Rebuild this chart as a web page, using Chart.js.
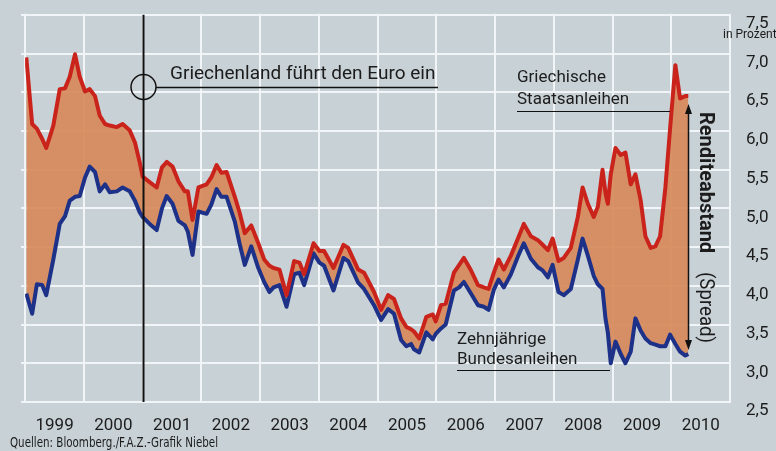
<!DOCTYPE html>
<html>
<head>
<meta charset="utf-8">
<script src="https://cdn.jsdelivr.net/npm/chart.js@4.4.1/dist/chart.umd.min.js"></script>
<style>
  html, body { margin: 0; padding: 0; background: #c8d1d6; }
  canvas { display: block; background: #c8d1d6; }
</style>
</head>
<body>
<canvas id="spreadChart" width="776" height="451"></canvas>
<script>
// decimal years
const years = [
  1999.02, 1999.12, 1999.20, 1999.29, 1999.36, 1999.48, 1999.59, 1999.68, 1999.76, 1999.85,
  1999.93, 2000.02, 2000.10, 2000.19, 2000.27, 2000.36, 2000.44, 2000.56, 2000.66, 2000.78,
  2000.87, 2000.95, 2001.00, 2001.12, 2001.24, 2001.33, 2001.41, 2001.51, 2001.61, 2001.72,
  2001.77, 2001.85, 2001.95, 2002.09, 2002.17, 2002.26, 2002.34, 2002.43, 2002.57, 2002.65,
  2002.74, 2002.85, 2002.97, 2003.07, 2003.16, 2003.23, 2003.33, 2003.45, 2003.58, 2003.67,
  2003.75, 2003.91, 2004.01, 2004.09, 2004.25, 2004.42, 2004.50, 2004.67, 2004.77, 2004.94,
  2005.06, 2005.18, 2005.28, 2005.40, 2005.49, 2005.57, 2005.62, 2005.71, 2005.83, 2005.94,
  2005.99, 2006.08, 2006.16, 2006.30, 2006.39, 2006.47, 2006.59, 2006.71, 2006.81, 2006.89,
  2006.98, 2007.06, 2007.15, 2007.27, 2007.39, 2007.49, 2007.61, 2007.73, 2007.81, 2007.90,
  2007.98, 2008.08, 2008.17, 2008.29, 2008.41, 2008.49, 2008.58, 2008.68, 2008.75, 2008.83,
  2008.88, 2008.92, 2008.97, 2009.05, 2009.14, 2009.22, 2009.31, 2009.39, 2009.48, 2009.56,
  2009.65, 2009.73, 2009.81, 2009.90, 2009.98, 2010.07, 2010.15, 2010.24, 2010.29
];

// Griechische Staatsanleihen (10 Jahre), in Prozent
const greekYields = [
  6.95, 6.09, 6.03, 5.90, 5.78, 6.07, 6.54, 6.55, 6.70, 6.99,
  6.70, 6.51, 6.54, 6.45, 6.20, 6.09, 6.07, 6.05, 6.09, 6.01,
  5.85, 5.60, 5.41, 5.34, 5.27, 5.53, 5.60, 5.54, 5.35, 5.22,
  5.22, 4.85, 5.27, 5.31, 5.40, 5.56, 5.46, 5.47, 5.15, 4.95,
  4.68, 4.78, 4.55, 4.34, 4.26, 4.23, 4.21, 3.88, 4.32, 4.30,
  4.15, 4.55, 4.45, 4.45, 4.23, 4.53, 4.49, 4.21, 4.17, 3.92,
  3.69, 3.88, 3.83, 3.58, 3.47, 3.44, 3.41, 3.32, 3.60, 3.63,
  3.54, 3.75, 3.77, 4.17, 4.27, 4.36, 4.20, 4.01, 3.98, 3.96,
  4.17, 4.34, 4.21, 4.39, 4.61, 4.80, 4.64, 4.59, 4.53, 4.46,
  4.61, 4.32, 4.36, 4.49, 4.89, 5.27, 5.06, 4.89, 5.02, 5.50,
  5.20, 5.06, 5.44, 5.78, 5.69, 5.72, 5.31, 5.44, 5.10, 4.64,
  4.49, 4.51, 4.64, 5.27, 6.03, 6.85, 6.42, 6.45, 6.45
];

// Zehnjährige Bundesanleihen, in Prozent
const bundYields = [
  3.90, 3.64, 4.02, 4.01, 3.88, 4.34, 4.80, 4.90, 5.10, 5.15,
  5.16, 5.40, 5.54, 5.47, 5.22, 5.31, 5.21, 5.22, 5.27, 5.22,
  5.10, 4.95, 4.89, 4.80, 4.72, 5.00, 5.16, 5.06, 4.84, 4.78,
  4.70, 4.40, 4.96, 4.93, 5.05, 5.25, 5.15, 5.15, 4.83, 4.55,
  4.27, 4.51, 4.23, 4.05, 3.92, 3.98, 4.01, 3.73, 4.15, 4.17,
  4.01, 4.42, 4.30, 4.26, 3.94, 4.36, 4.32, 4.04, 3.96, 3.75,
  3.56, 3.70, 3.64, 3.30, 3.22, 3.25, 3.18, 3.14, 3.40, 3.31,
  3.38, 3.45, 3.50, 3.94, 3.98, 4.05, 3.90, 3.75, 3.73, 3.69,
  3.95, 4.08, 3.98, 4.15, 4.38, 4.55, 4.35, 4.24, 4.20, 4.11,
  4.27, 3.92, 3.88, 3.96, 4.34, 4.61, 4.39, 4.13, 4.02, 3.96,
  3.58, 3.40, 3.00, 3.28, 3.12, 3.00, 3.15, 3.58, 3.42, 3.32,
  3.26, 3.24, 3.22, 3.22, 3.37, 3.25, 3.15, 3.10, 3.12
];

const firstYear = 1999;
const lastYear = 2011;
const yMin = 2.5;
const yMax = 7.5;
const euroEntry = 2001;

const fontFamily = 'Roboto, "Liberation Sans", sans-serif';
const ink = '#1c1c1c';
const gridWhite = '#f1f5f7';

function arrowHead(ctx, x, y, dir) {
  ctx.beginPath();
  ctx.moveTo(x, y);
  ctx.lineTo(x - 3.5, y - dir * 10);
  ctx.lineTo(x + 3.5, y - dir * 10);
  ctx.closePath();
  ctx.fill();
}

const notes = {
  id: 'notes',
  afterDatasetsDraw(chart) {
    const ctx = chart.ctx;
    const xs = chart.scales.x;
    const ys = chart.scales.y;
    const area = chart.chartArea;
    ctx.save();

    // white grid, slipped in behind what is already drawn
    ctx.globalCompositeOperation = 'destination-over';
    ctx.strokeStyle = gridWhite;
    ctx.lineWidth = 2;
    ctx.beginPath();
    xs.ticks.forEach(t => {
      const px = Math.round(xs.getPixelForValue(t.value));
      ctx.moveTo(px, area.top - 1);
      ctx.lineTo(px, area.bottom + 1);
    });
    ys.ticks.forEach(t => {
      const py = Math.round(ys.getPixelForValue(t.value));
      ctx.moveTo(area.left - 4, py);
      ctx.lineTo(area.right + 1, py);
    });
    ctx.stroke();
    ctx.globalCompositeOperation = 'source-over';

    ctx.strokeStyle = '#111';
    ctx.fillStyle = ink;

    // euro entry line with circle marker
    const ex = Math.round(xs.getPixelForValue(euroEntry)) + 0.5;
    ctx.lineWidth = 2;
    ctx.beginPath();
    ctx.moveTo(ex, area.top);
    ctx.lineTo(ex, area.bottom);
    ctx.stroke();
    ctx.lineWidth = 1.5;
    ctx.beginPath();
    ctx.arc(ex, 87, 12.5, 0, Math.PI * 2);
    ctx.stroke();
    ctx.beginPath();
    ctx.moveTo(ex + 12.5, 87.5);
    ctx.lineTo(438, 87.5);
    ctx.stroke();

    ctx.font = '19px ' + fontFamily;
    ctx.textBaseline = 'alphabetic';
    ctx.fillText('Griechenland führt den Euro ein', 170, 79, 266);

    // Greek label
    ctx.font = '17px ' + fontFamily;
    ctx.fillText('Griechische', 517, 82, 96);
    ctx.fillText('Staatsanleihen', 517, 104, 122);
    ctx.lineWidth = 1.2;
    ctx.beginPath();
    ctx.moveTo(517, 111.5);
    ctx.lineTo(670, 111.5);
    ctx.stroke();

    // Bund label
    ctx.fillText('Zehnjährige', 457, 344, 98);
    ctx.fillText('Bundesanleihen', 457, 364, 130);
    ctx.beginPath();
    ctx.moveTo(457, 370.5);
    ctx.lineTo(610, 370.5);
    ctx.stroke();

    // spread arrow between last values
    const last = years.length - 1;
    const ax = Math.round(xs.getPixelForValue(years[last])) + 0.5;
    const top = ys.getPixelForValue(greekYields[last]) + 8;
    const bottom = ys.getPixelForValue(bundYields[last]) - 4;
    ctx.lineWidth = 1.5;
    ctx.beginPath();
    ctx.moveTo(ax, top + 6);
    ctx.lineTo(ax, bottom - 6);
    ctx.stroke();
    ctx.fillStyle = '#111';
    arrowHead(ctx, ax, top, -1);
    arrowHead(ctx, ax, bottom, 1);
    ctx.restore();
  },
  afterDraw(chart) {
    const ctx = chart.ctx;
    ctx.save();
    ctx.fillStyle = ink;

    // rotated spread label
    ctx.translate(705, 112);
    ctx.rotate(Math.PI / 2);
    ctx.textBaseline = 'middle';
    ctx.font = 'bold 20px ' + fontFamily;
    ctx.fillText('Renditeabstand', 0, 0, 151);
    ctx.font = '20px ' + fontFamily;
    ctx.fillText('(Spread)', 160, 0, 71);
    ctx.setTransform(1, 0, 0, 1, 0, 0);

    ctx.font = '12px ' + fontFamily;
    ctx.textBaseline = 'alphabetic';
    ctx.fillText('in Prozent', 723, 38);

    ctx.font = '14px "DejaVu Sans Condensed", "Liberation Sans Narrow", ' + fontFamily;
    ctx.fillText('Quellen: Bloomberg./F.A.Z.-Grafik Niebel', 10, 447, 208);
    ctx.restore();
  }
};

const ctx = document.getElementById('spreadChart').getContext('2d');
const spreadChart = new Chart(ctx, {
  type: 'line',
  data: {
    datasets: [
      {
        label: 'Griechische Staatsanleihen',
        data: years.map((t, i) => ({ x: t, y: greekYields[i] })),
        borderColor: '#c9231c',
        borderWidth: 4,
        backgroundColor: 'rgba(215, 138, 90, 0.92)',
        fill: '+1',
        pointRadius: 0,
        tension: 0,
        borderJoinStyle: 'round'
      },
      {
        label: 'Zehnjährige Bundesanleihen',
        data: years.map((t, i) => ({ x: t, y: bundYields[i] })),
        borderColor: '#1e3188',
        borderWidth: 4,
        fill: false,
        pointRadius: 0,
        tension: 0,
        borderJoinStyle: 'round'
      }
    ]
  },
  options: {
    responsive: false,
    animation: false,
    devicePixelRatio: 1,
    layout: { padding: { left: 23, top: 7, right: 0, bottom: 0 } },
    plugins: {
      legend: { display: false },
      tooltip: { enabled: false },
      filler: { drawTime: 'beforeDatasetsDraw' }
    },
    scales: {
      x: {
        type: 'linear',
        min: firstYear,
        max: lastYear,
        afterFit: s => { s.height = 49; },
        grid: { display: false },
        border: { display: false },
        ticks: {
          stepSize: 1,
          padding: 6,
          labelOffset: 29.5,
          maxRotation: 0,
          autoSkip: false,
          color: ink,
          font: { family: fontFamily, size: 17 },
          callback: v => (v < lastYear ? String(v) : '')
        }
      },
      y: {
        position: 'right',
        min: yMin,
        max: yMax,
        afterFit: s => { s.width = 46; },
        grid: { display: false },
        border: { display: false },
        ticks: {
          stepSize: 0.5,
          padding: 8,
          labelOffset: 9,
          color: ink,
          font: { family: fontFamily, size: 17, lineHeight: 0.8 },
          callback: v => v.toFixed(1).replace('.', ',')
        }
      }
    }
  },
  plugins: [notes]
});
</script>
</body>
</html>
